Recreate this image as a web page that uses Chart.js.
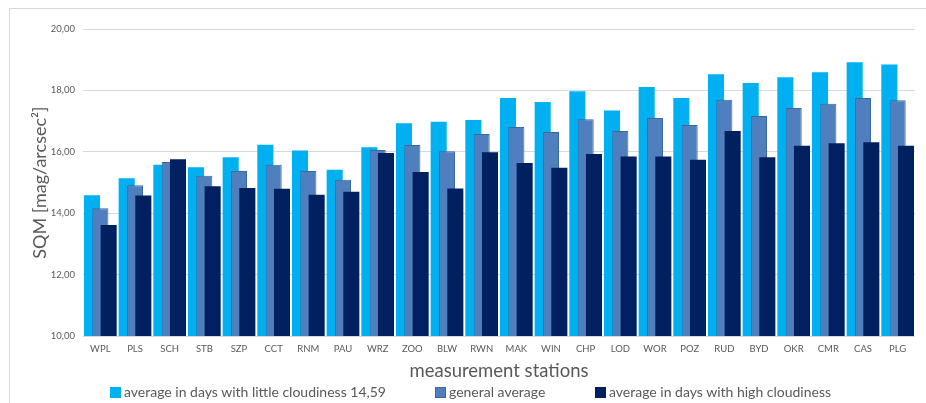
<!DOCTYPE html>
<html>
<head>
<meta charset="utf-8">
<script src="https://cdn.jsdelivr.net/npm/chart.js@4.4.1/dist/chart.umd.min.js"></script>
<style>
  html, body { margin: 0; padding: 0; background: #fff; }
  #wrap { position: relative; width: 926px; height: 403px; overflow: hidden; background: #fff; }
  #frame { position: absolute; left: 9px; top: 8px; width: 1000px; height: 500px; border-left: 1px solid #d9d9d9; border-top: 1px solid #d9d9d9; }
  #c { position: absolute; left: 0; top: 0; }
  #legend { position: absolute; top: 383px; left: 0; width: 926px; height: 20px; font-family: Lato, "Open Sans", sans-serif; font-size: 14px; color: #595959; }
  .item { position: absolute; top: 0; white-space: nowrap; line-height: 18px; }
  .box { display: inline-block; width: 11px; height: 11px; margin-right: 3px; vertical-align: -1px; }
</style>
</head>
<body>
<div id="wrap">
  <div id="frame"></div>
  <canvas id="c" width="926" height="403"></canvas>
  <div id="legend"></div>
</div>
<script>
const categories = ["WPL","PLS","SCH","STB","SZP","CCT","RNM","PAU","WRZ","ZOO","BLW","RWN","MAK","WIN","CHP","LOD","WOR","POZ","RUD","BYD","OKR","CMR","CAS","PLG"];
const littleCloudiness = [14.59,15.14,15.58,15.50,15.82,16.23,16.04,15.42,16.15,16.93,16.98,17.04,17.75,17.62,17.97,17.35,18.11,17.75,18.53,18.24,18.43,18.59,18.92,18.84];
const generalAverage   = [14.16,14.91,15.67,15.22,15.38,15.58,15.38,15.09,16.06,16.22,16.02,16.58,16.81,16.65,17.06,16.68,17.10,16.87,17.70,17.17,17.43,17.57,17.75,17.68];
const highCloudiness   = [13.62,14.58,15.76,14.88,14.82,14.80,14.60,14.70,15.96,15.34,14.81,15.99,15.64,15.48,15.93,15.85,15.85,15.74,16.68,15.82,16.20,16.28,16.31,16.20];
const seriesLabels = ["average in days with little cloudiness 14,59", "general average", "average in days with high cloudiness"];
const yMin = 10, yMax = 20, yStep = 2;

const colors = ["#00b0f0", "#4f7fbe", "#002060"];
const borders = ["#00b0f0", "#3b68a0", "#002060"];
const FONT = "Lato, 'Open Sans', sans-serif";

// draw datasets left-to-right so later series overlap earlier ones (as in the reference)
const forwardDraw = {
  id: 'forwardDraw',
  beforeDatasetsDraw(chart) {
    const metas = chart.getSortedVisibleDatasetMetas();
    for (const m of metas) {
      if (typeof chart._drawDataset === 'function') chart._drawDataset(m);
      else m.controller.draw();
    }
    return false;
  }
};

const seriesData = [littleCloudiness, generalAverage, highCloudiness];
const datasets = seriesData.map((d, i) => ({
  label: seriesLabels[i],
  data: d,
  backgroundColor: colors[i],
  borderColor: borders[i],
  borderWidth: i === 1 ? 1 : 0,
  borderSkipped: 'bottom',
  categoryPercentage: 0.72,
  barPercentage: 1.93
}));

new Chart(document.getElementById('c'), {
  type: 'bar',
  data: { labels: categories, datasets },
  plugins: [forwardDraw],
  options: {
    responsive: false,
    animation: false,
    devicePixelRatio: 1,
    layout: { padding: { left: 27, right: 11, top: 29, bottom: 23 } },
    plugins: { legend: { display: false }, tooltip: { enabled: false } },
    scales: {
      x: {
        grid: { display: false, drawTicks: false },
        border: { display: false },
        ticks: { color: '#595959', font: { family: FONT, size: 9.5 }, padding: 7, maxRotation: 0, autoSkip: false },
        title: { display: true, text: 'measurement stations', color: '#595959', font: { family: FONT, size: 18.5, lineHeight: 1 }, padding: { top: 0, bottom: 0 } }
      },
      y: {
        min: yMin, max: yMax,
        grid: { color: '#d9d9d9', drawTicks: false },
        border: { display: false },
        ticks: { stepSize: yStep, color: '#595959', font: { family: FONT, size: 9.5 }, padding: 8,
                 callback: v => v.toFixed(2).replace('.', ',') },
        title: { display: true, text: 'SQM [mag/arcsec²]', color: '#595959', font: { family: FONT, size: 18 }, padding: { top: 2, bottom: 0 } },
        afterFit: s => { s.width = 56; }
      }
    }
  }
});

// legend built from the series
const legendPos = [110, 435, 595];
const lg = document.getElementById('legend');
seriesLabels.forEach((t, i) => {
  const it = document.createElement('div');
  it.className = 'item';
  it.style.left = legendPos[i] + 'px';
  const b = document.createElement('span');
  b.className = 'box';
  b.style.background = colors[i];
  if (i === 1) b.style.boxShadow = 'inset 0 0 0 1px ' + borders[i];
  it.appendChild(b);
  it.appendChild(document.createTextNode(t));
  lg.appendChild(it);
});
</script>
</body>
</html>
